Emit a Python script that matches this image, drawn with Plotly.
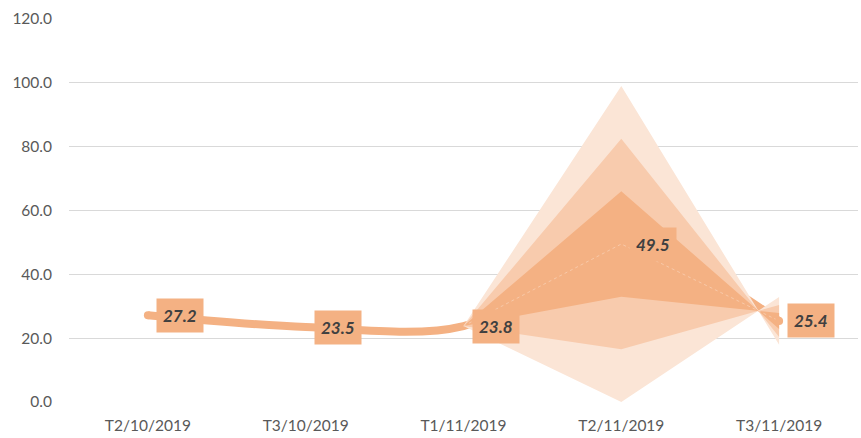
import plotly.graph_objects as go

categories = ["T2/10/2019", "T3/10/2019", "T1/11/2019", "T2/11/2019", "T3/11/2019"]
values = [27.2, 23.5, 23.8, 49.5, 25.4]

# fan bounds (None where no forecast)
fan_center = [None, None, 23.8, 49.5, 25.4]
band_lo3 = [None, None, 23.8, 0.0, 32.9]
band_lo2 = [None, None, 23.8, 16.5, 30.4]
band_lo1 = [None, None, 23.8, 33.0, 27.9]
band_hi1 = [None, None, 23.8, 66.0, 22.9]
band_hi2 = [None, None, 23.8, 82.5, 20.4]
band_hi3 = [None, None, 23.8, 99.0, 17.9]

y_ticks = [0, 20, 40, 60, 80, 100, 120]

LIGHT = "#FBE5D6"
MED = "#F8CBAD"
DARK = "#F4B183"
FONT = "Lato"

fig = go.Figure()

# main line (beneath the fan)
fig.add_trace(go.Scatter(
    x=categories, y=values, mode="lines",
    line=dict(color=DARK, width=8, shape="spline", smoothing=0.9),
    hoverinfo="skip", showlegend=False,
))

def fan_cat(arr):
    return [c for c, v in zip(categories, arr) if v is not None], [v for v in arr if v is not None]

for lo, hi, col in [(band_lo3, band_hi3, LIGHT), (band_lo2, band_hi2, MED), (band_lo1, band_hi1, DARK)]:
    xl, yl = fan_cat(lo)
    xh, yh = fan_cat(hi)
    fig.add_trace(go.Scatter(x=xl, y=yl, mode="lines", line=dict(width=0, color=col),
                             hoverinfo="skip", showlegend=False))
    fig.add_trace(go.Scatter(x=xh, y=yh, mode="lines", line=dict(width=0, color=col),
                             fill="tonexty", fillcolor=col, hoverinfo="skip", showlegend=False))

# faint seam between the two inner bands
xc, yc = fan_cat(fan_center)
fig.add_trace(go.Scatter(x=xc, y=yc, mode="lines",
                         line=dict(color="rgba(255,255,255,0.3)", width=1, dash="dot"),
                         hoverinfo="skip", showlegend=False))

# round caps of the line
fig.add_trace(go.Scatter(x=[categories[0], categories[-1]], y=[values[0], values[-1]], mode="markers",
                         marker=dict(color=DARK, size=8), hoverinfo="skip", showlegend=False))

for c, v in zip(categories, values):
    fig.add_annotation(
        x=c, y=v, xref="x", yref="y", text=f"<b><i>{v:.1f}</i></b>",
        showarrow=False, xshift=32, bgcolor=DARK, borderpad=6,
        font=dict(family=FONT, size=17, color="#404040"),
    )

fig.update_layout(
    width=861, height=438,
    margin=dict(l=69, r=3, t=19, b=36),
    paper_bgcolor="white", plot_bgcolor="white",
    font=dict(family=FONT, size=15.5, color="#595959"),
    xaxis=dict(type="category", categoryorder="array", categoryarray=categories,
               showgrid=False, showline=False, zeroline=False, ticks="",
               range=[-0.5, 4.5], ticklabelstandoff=12),
    yaxis=dict(range=[0, 120], tickvals=y_ticks, tickformat=".1f",
               showgrid=True, gridcolor="#D9D9D9", gridwidth=1,
               zeroline=False, showline=False, ticks="", ticklabelstandoff=16),
)

fig.write_html("out.html", config={"displayModeBar": False},
               post_script="document.body.style.margin='0';document.body.style.overflow='hidden';")
